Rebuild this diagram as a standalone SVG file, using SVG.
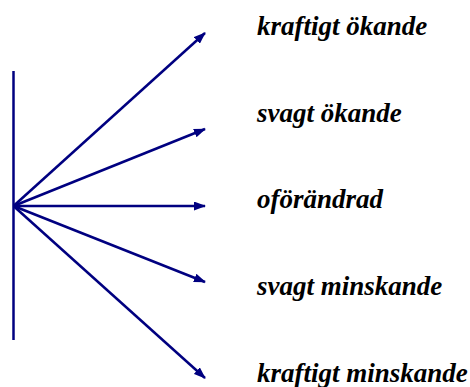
<svg xmlns="http://www.w3.org/2000/svg" width="470" height="387" viewBox="0 0 470 387">
<style>
.ln{stroke:#000080;stroke-width:2.5;fill:none}
.lbl{font-family:"Liberation Serif",serif;font-weight:bold;font-style:italic;font-size:27px;fill:#000}
</style>
<defs>
<marker id="ah" markerWidth="12" markerHeight="9" refX="11" refY="4.5" orient="auto" markerUnits="userSpaceOnUse">
<path d="M0,0 L12,4.5 L0,9 Z" fill="#000080"/>
</marker>
</defs>
<g id="axis"><line class="ln" x1="13.5" y1="71" x2="13.5" y2="340"/></g>
<g id="connectors">
<line class="ln" x1="13.5" y1="206" x2="205" y2="33" marker-end="url(#ah)"/>
<line class="ln" x1="13.5" y1="206" x2="205" y2="129" marker-end="url(#ah)"/>
<line class="ln" x1="13.5" y1="206" x2="205" y2="206" marker-end="url(#ah)"/>
<line class="ln" x1="13.5" y1="206" x2="205" y2="282" marker-end="url(#ah)"/>
<line class="ln" x1="13.5" y1="206" x2="205" y2="378" marker-end="url(#ah)"/>
</g>
<g id="n1"><text class="lbl" x="257" y="35">kraftigt ökande</text></g>
<g id="n2"><text class="lbl" x="257" y="122">svagt ökande</text></g>
<g id="n3"><text class="lbl" x="257" y="208">oförändrad</text></g>
<g id="n4"><text class="lbl" x="257" y="295">svagt minskande</text></g>
<g id="n5"><text class="lbl" x="257" y="382">kraftigt minskande</text></g>
</svg>
